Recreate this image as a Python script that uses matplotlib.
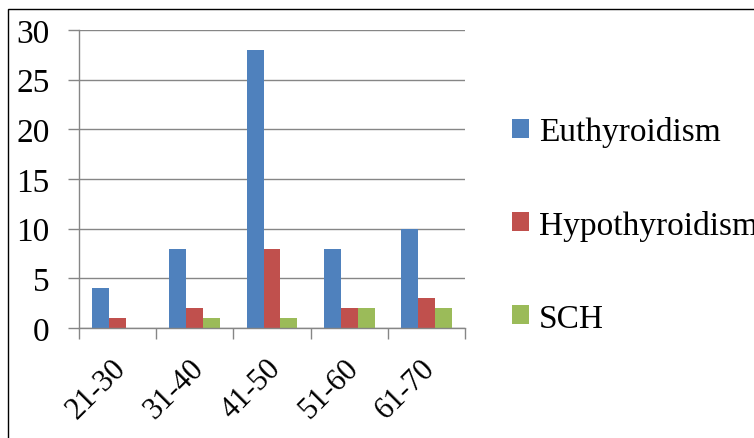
import matplotlib.pyplot as plt
import numpy as np
from matplotlib.patches import Rectangle
from matplotlib.transforms import ScaledTranslation

age_groups = ["21-30", "31-40", "41-50", "51-60", "61-70"]
euthyroidism = [4, 8, 28, 8, 10]
hypothyroidism = [1, 2, 8, 2, 3]
sch = [0, 1, 1, 2, 2]

plt.rcParams['font.family'] = ['Liberation Serif', 'DejaVu Serif']

fig = plt.figure(figsize=(7.54, 4.39), dpi=100)
ax = fig.add_axes([0.1048, 0.2506, 0.5119, 0.6788])

x = np.arange(len(age_groups))
w = 0.22
ax.bar(x - w, euthyroidism, w, color="#4F81BD", label="Euthyroidism")
ax.bar(x, hypothyroidism, w, color="#C0504D", label="Hypothyroidism")
ax.bar(x + w, sch, w, color="#9BBB59", label="SCH")

ax.set_xlim(-0.5, len(age_groups) - 0.5)
ax.set_ylim(0, 30)
ax.set_yticks(range(0, 31, 5))
ax.yaxis.grid(True, color="#868686", linewidth=1)
ax.set_axisbelow(True)

for s in ["top", "right"]:
    ax.spines[s].set_visible(False)
for s in ["left", "bottom"]:
    ax.spines[s].set_color("#868686")
    ax.spines[s].set_linewidth(1)

# ticks at category boundaries, labels at centres
ax.set_xticks(np.arange(-0.5, len(age_groups), 1))
ax.set_xticklabels([])
ax.set_xticks(x, minor=True)
ax.set_xticklabels(age_groups, minor=True, rotation=45, ha="right",
                   rotation_mode="anchor", fontsize=22)
ax.tick_params(axis="x", which="major", length=8, color="#868686", width=1)
ax.tick_params(axis="x", which="minor", length=0, pad=18)
ax.tick_params(axis="y", length=8, color="#868686", width=1, labelsize=24, pad=13)
shift = ScaledTranslation(-6 / 100, 0, fig.dpi_scale_trans)
for lbl in ax.get_xticklabels(minor=True):
    lbl.set_transform(lbl.get_transform() + shift)

fig.legend(loc="center left", bbox_to_anchor=(512 / 754, 1 - 226 / 439),
           frameon=False, fontsize=24, handlelength=0.5, handleheight=0.5,
           handletextpad=0.3, labelspacing=1.87, borderpad=0, borderaxespad=0)

fig.add_artist(Rectangle((8 / 754, -0.5), 1.5, 0.5 + 1 - 10 / 439,
                         transform=fig.transFigure, fill=False,
                         edgecolor="black", linewidth=1))

fig.savefig("out.png", dpi=100)
